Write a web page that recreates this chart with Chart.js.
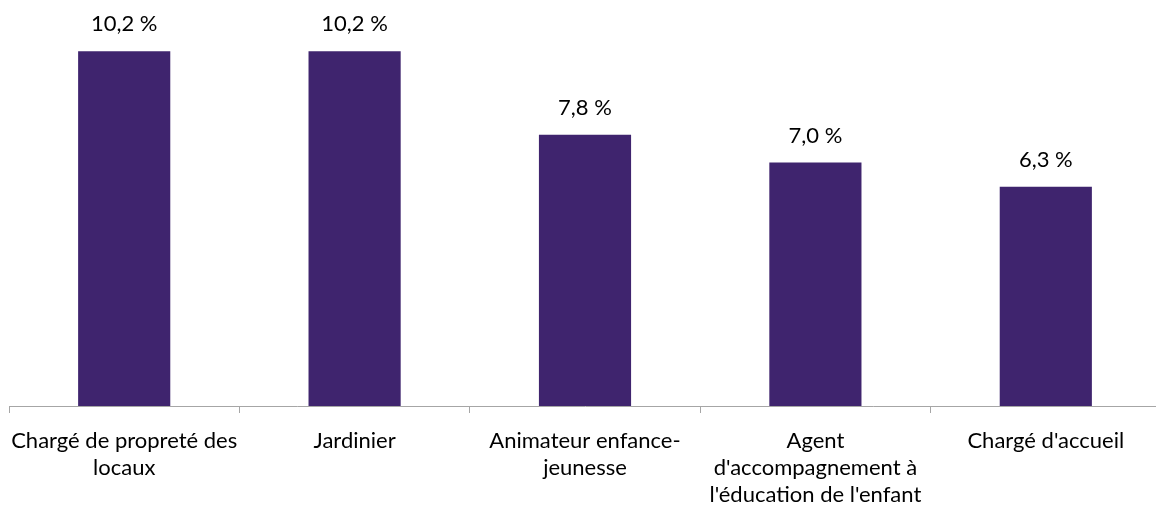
<!DOCTYPE html>
<html lang="fr">
<head>
<meta charset="utf-8">
<title>Métiers</title>
<script src="https://cdn.jsdelivr.net/npm/chart.js@4"></script>
<style>
    html, body { margin: 0; padding: 0; background: #fff; overflow: hidden; }
    #wrap { width: 1162px; height: 506px; }
</style>
</head>
<body>
<div id="wrap"><canvas id="chart" width="1162" height="506"></canvas></div>
<script>
// Occupations (axis labels, wrapped as on the axis)
const categories = [
    ['Chargé de propreté des', 'locaux'],
    ['Jardinier'],
    ['Animateur enfance-', 'jeunesse'],
    ['Agent', "d'accompagnement à", "l'éducation de l'enfant"],
    ["Chargé d'accueil"]
];
// Share in percent
const shares = [10.2, 10.2, 7.8, 7.0, 6.3];

const BAR_COLOR = '#3f246e';
const FONT = 'Lato, "Open Sans", sans-serif';

// writes "10,2 %" above each bar
const valueLabels = {
    id: 'valueLabels',
    afterDatasetsDraw(chart) {
        const ctx = chart.ctx;
        const meta = chart.getDatasetMeta(0);
        ctx.save();
        ctx.font = '22px ' + FONT;
        ctx.fillStyle = '#000';
        ctx.textAlign = 'center';
        ctx.textBaseline = 'middle';
        meta.data.forEach((bar, i) => {
            const txt = shares[i].toFixed(1).replace('.', ',') + ' %';
            ctx.fillText(txt, bar.x, bar.y - 27);
        });
        ctx.restore();
    }
};

new Chart(document.getElementById('chart'), {
    type: 'bar',
    data: {
        labels: categories,
        datasets: [{
            data: shares,
            backgroundColor: BAR_COLOR,
            borderWidth: 0,
            categoryPercentage: 0.4,
            barPercentage: 1
        }]
    },
    options: {
        responsive: false,
        animation: false,
        layout: { padding: { top: 6, left: 9, right: 1, bottom: 0 } },
        plugins: {
            legend: { display: false },
            tooltip: { enabled: false }
        },
        scales: {
            x: {
                afterFit(scale) {
                    scale.height = 100;
                    // wide first/last labels should not push the axis inward
                    scale.paddingLeft = 0;
                    scale.paddingRight = 0;
                },
                border: { display: true, color: '#a6a6a6', width: 1 },
                grid: {
                    display: true,
                    drawOnChartArea: false,
                    color: '#a6a6a6',
                    tickLength: 7,
                    offset: true
                },
                ticks: {
                    autoSkip: false,
                    maxRotation: 0,
                    minRotation: 0,
                    color: '#000',
                    padding: 14,
                    font: { family: FONT, size: 22, lineHeight: 1.23 }
                }
            },
            y: {
                display: false,
                min: 0,
                max: 11.5
            }
        }
    },
    plugins: [valueLabels]
});
</script>
</body>
</html>
